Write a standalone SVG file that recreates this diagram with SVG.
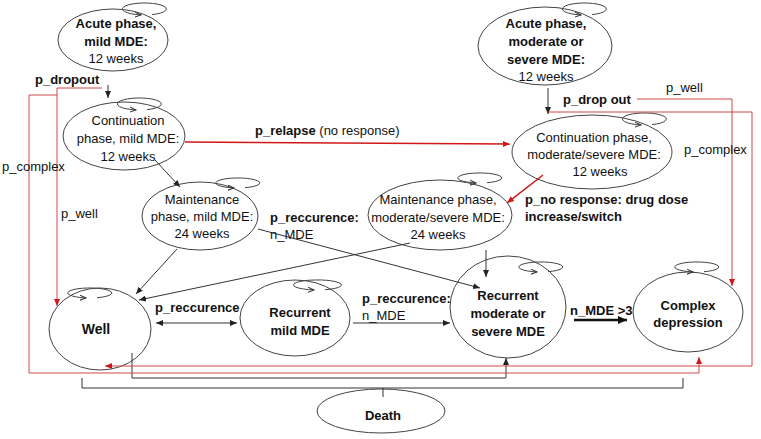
<svg xmlns="http://www.w3.org/2000/svg" width="761" height="439" viewBox="0 0 761 439">
<style>
text{font-family:"Liberation Sans",Arial,sans-serif;font-size:13px;fill:#111}
.b{font-weight:bold}
.c{text-anchor:middle}
.node{fill:#fff;stroke:#444;stroke-width:1}
.loop{fill:none;stroke:#444;stroke-width:1}
.k{fill:none;stroke:#333;stroke-width:1}
.r{fill:none;stroke:#d04848;stroke-width:1}
.rr{fill:none;stroke:#d01818;stroke-width:1.5}
</style>
<defs>
<marker id="ab" markerUnits="userSpaceOnUse" markerWidth="8" markerHeight="8" refX="7" refY="4" orient="auto"><path d="M0,1 L7,4 L0,7 z" fill="#222"/></marker>
<marker id="abs" markerUnits="userSpaceOnUse" markerWidth="8" markerHeight="8" refX="0" refY="4" orient="auto"><path d="M7,1 L0,4 L7,7 z" fill="#222"/></marker>
<marker id="ar" markerUnits="userSpaceOnUse" markerWidth="8" markerHeight="8" refX="7" refY="4" orient="auto"><path d="M0,1 L7,4 L0,7 z" fill="#d01818"/></marker>
<marker id="al" markerUnits="userSpaceOnUse" markerWidth="8" markerHeight="8" refX="6" refY="4" orient="auto"><path d="M0,1.5 L6,4 L0,6.5" fill="none" stroke="#333" stroke-width="1"/></marker>
<marker id="at" markerUnits="userSpaceOnUse" markerWidth="10" markerHeight="10" refX="9" refY="5" orient="auto"><path d="M0,1 L9,5 L0,9 z" fill="#111"/></marker>
</defs>

<g id="acute_mild">
<ellipse class="node" cx="113" cy="40" rx="55" ry="31"/>
<path class="loop" d="M152,14.6 A22,6 0 1 0 141,14.9" marker-end="url(#al)"/>
<text class="b c" x="116" y="27.5">Acute phase,</text>
<text class="b c" x="116" y="46">mild MDE:</text>
<text class="c" x="116" y="63">12 weeks</text>
</g>

<g id="cont_mild">
<ellipse class="node" cx="124" cy="136" rx="61" ry="34"/>
<path class="loop" d="M147,109.6 A22,6 0 1 0 136,109.9" marker-end="url(#al)"/>
<text class="c" x="128" y="124.5">Continuation</text>
<text class="c" x="128" y="142.5">phase, mild MDE:</text>
<text class="c" x="128" y="160.5">12 weeks</text>
</g>

<g id="maint_mild">
<ellipse class="node" cx="200" cy="216" rx="58" ry="34"/>
<path class="loop" d="M245,187.7 A22,5 0 1 0 234,187.9" marker-end="url(#al)"/>
<text class="c" x="202" y="203.5">Maintenance</text>
<text class="c" x="202" y="220.5">phase, mild MDE:</text>
<text class="c" x="202" y="237.5">24 weeks</text>
</g>

<g id="acute_ms">
<ellipse class="node" cx="545" cy="46" rx="67" ry="39"/>
<path class="loop" d="M592,14.6 A22,6 0 1 0 581,14.9" marker-end="url(#al)"/>
<text class="b c" x="546" y="27.5">Acute phase,</text>
<text class="b c" x="546" y="45.5">moderate or</text>
<text class="b c" x="546" y="63.5">severe MDE:</text>
<text class="c" x="546" y="81">12 weeks</text>
</g>

<g id="cont_ms">
<ellipse class="node" cx="592" cy="152" rx="80" ry="37"/>
<path class="loop" d="M652,124.6 A22,6 0 1 0 641,124.9" marker-end="url(#al)"/>
<text class="c" x="594" y="141.5">Continuation phase,</text>
<text class="c" x="594" y="158.5">moderate/severe MDE:</text>
<text class="c" x="600" y="175.5">12 weeks</text>
</g>

<g id="maint_ms">
<ellipse class="node" cx="440" cy="215" rx="72" ry="35"/>
<path class="loop" d="M487,182.7 A22,5 0 1 0 476,182.9" marker-end="url(#al)"/>
<text class="c" x="438" y="204">Maintenance phase,</text>
<text class="c" x="438" y="221.5">moderate/severe MDE:</text>
<text class="c" x="438" y="238.5">24 weeks</text>
</g>

<g id="well">
<ellipse class="node" cx="100" cy="329" rx="51" ry="41"/>
<path class="loop" d="M97,297.7 A22,5 0 1 0 86,297.9" marker-end="url(#al)"/>
<text class="b c" x="96" y="334" style="font-size:14px">Well</text>
</g>

<g id="rec_mild">
<ellipse class="node" cx="295" cy="318" rx="55" ry="38"/>
<path class="loop" d="M325,289.7 A24,5 0 1 0 314,289.9" marker-end="url(#al)"/>
<text class="b c" x="300" y="316.5">Recurrent</text>
<text class="b c" x="300" y="334.5">mild MDE</text>
</g>

<g id="rec_ms">
<ellipse class="node" cx="508" cy="307" rx="58" ry="51"/>
<path class="loop" d="M548,271.7 A22,5 0 1 0 537,271.9" marker-end="url(#al)"/>
<text class="b c" x="508" y="299.5">Recurrent</text>
<text class="b c" x="508" y="317.5">moderate or</text>
<text class="b c" x="508" y="335.5">severe MDE</text>
</g>

<g id="complex">
<ellipse class="node" cx="688" cy="312" rx="55" ry="40"/>
<path class="loop" d="M704,271.7 A22,5 0 1 0 693,271.9" marker-end="url(#al)"/>
<text class="b c" x="688" y="309.5">Complex</text>
<text class="b c" x="688" y="326.5">depression</text>
</g>

<g id="death">
<ellipse class="node" cx="381" cy="411" rx="64" ry="22"/>
<text class="b c" x="383" y="420">Death</text>
</g>

<g id="connectors">
<line class="k" x1="108" y1="85" x2="108" y2="98" marker-end="url(#ab)"/>
<line class="k" x1="548" y1="88" x2="548" y2="114" marker-end="url(#ab)"/>
<line class="k" x1="155" y1="160" x2="180" y2="187" marker-end="url(#ab)"/>
<line class="k" x1="177" y1="249" x2="136" y2="294" marker-end="url(#ab)"/>
<line class="k" x1="410" y1="243" x2="139" y2="300" marker-end="url(#ab)"/>
<line class="k" x1="258" y1="229" x2="480" y2="288" marker-end="url(#ab)"/>
<line class="k" x1="486" y1="250" x2="486" y2="277" marker-end="url(#ab)"/>
<line class="k" x1="156" y1="323" x2="237" y2="323" marker-start="url(#abs)" marker-end="url(#ab)"/>
<line class="k" x1="353" y1="323" x2="450" y2="323" marker-end="url(#ab)"/>
<line x1="574" y1="320" x2="627" y2="320" stroke="#111" stroke-width="2.5" marker-end="url(#at)"/>
<path class="k" d="M132,353 V378 H506 V358" marker-end="url(#ab)"/>
<path class="k" d="M82,378 V388 H683 V378 M383,388 V397"/>
<line class="rr" x1="185" y1="142" x2="510" y2="144" marker-end="url(#ar)"/>
<line class="rr" x1="543" y1="175" x2="507" y2="203" marker-end="url(#ar)"/>
<path class="r" d="M102,88 H57 V306" marker-end="url(#ar)"/>
<path class="r" d="M57,95 H29 V373 H699 V357" marker-end="url(#ar)"/>
<path class="r" d="M637,99 H732 V286" marker-end="url(#ar)"/>
<path class="r" d="M548,112 H752 V366 H105" marker-end="url(#ar)"/>
</g>

<g id="labels">
<text class="b" x="35" y="84">p_dropout</text>
<text x="2" y="171">p_complex</text>
<text x="61" y="218">p_well</text>
<text x="255" y="135"><tspan class="b">p_relapse</tspan> (no response)</text>
<text class="b" x="563" y="103.5">p_drop out</text>
<text x="666" y="92">p_well</text>
<text x="684" y="154">p_complex</text>
<text class="b" x="525" y="203.5">p_no response: drug dose</text>
<text class="b" x="525" y="220.5">increase/switch</text>
<text class="b" x="270" y="222">p_reccurence:</text>
<text x="270" y="239">n_MDE</text>
<text class="b" x="155" y="312">p_reccurence</text>
<text class="b" x="362" y="302.5">p_reccurence:</text>
<text x="362" y="319.5">n_MDE</text>
<text class="b" x="570" y="315">n_MDE &gt;3</text>
</g>
</svg>
